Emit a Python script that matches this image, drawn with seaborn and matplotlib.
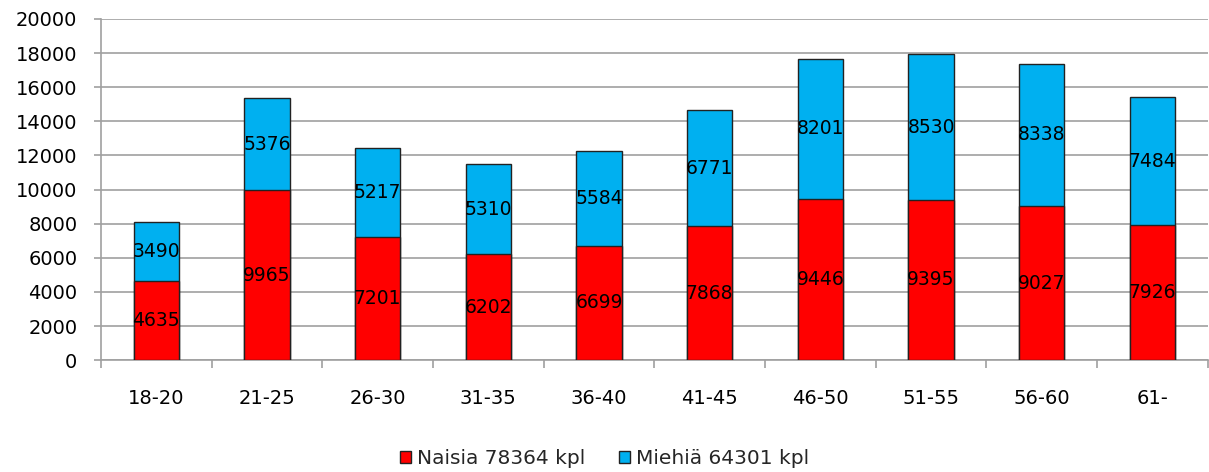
import matplotlib
matplotlib.use("Agg")
import matplotlib.pyplot as plt
import seaborn as sns
import pandas as pd
import numpy as np
from matplotlib.patches import Patch

categories = ["18-20", "21-25", "26-30", "31-35", "36-40", "41-45", "46-50", "51-55", "56-60", "61-"]
naisia = [4635, 9965, 7201, 6202, 6699, 7868, 9446, 9395, 9027, 7926]
miehia = [3490, 5376, 5217, 5310, 5584, 6771, 8201, 8530, 8338, 7484]
legend_labels = ["Naisia 78364 kpl", "Miehiä 64301 kpl"]

RED = "#FF0000"
BLUE = "#00B0F0"
GRID = "#A0A0A0"

sns.set_theme(style="white")
plt.rcParams["font.family"] = ["DejaVu Sans"]

df = pd.DataFrame({"cat": categories, "naisia": naisia, "miehia": miehia})
df["total"] = df["naisia"] + df["miehia"]

fig = plt.figure(figsize=(12.09, 4.72), dpi=100)
ax = fig.add_axes([0.0835, 0.237, 0.9155, 0.723])

sns.barplot(data=df, x="cat", y="total", color=BLUE, width=0.41, ax=ax,
            edgecolor="#222222", linewidth=1, saturation=1, zorder=3)
sns.barplot(data=df, x="cat", y="naisia", color=RED, width=0.41, ax=ax,
            edgecolor="#222222", linewidth=1, saturation=1, zorder=4)

for i, (n, m) in enumerate(zip(naisia, miehia)):
    ax.text(i, n / 2, str(n), ha="center", va="center", fontsize=13.5, color="black", zorder=5)
    ax.text(i, n + m / 2, str(m), ha="center", va="center", fontsize=13.5, color="black", zorder=5)

ax.set_xlim(-0.5, len(categories) - 0.5)
ax.set_ylim(0, 20000)
ax.set_yticks(np.arange(0, 20001, 2000))
ax.yaxis.grid(True, color=GRID, linewidth=1.2, zorder=0)
ax.set_axisbelow(True)
ax.set_xlabel("")
ax.set_ylabel("")

for s in ["top", "right"]:
    ax.spines[s].set_visible(False)
for s in ["left", "bottom"]:
    ax.spines[s].set_color(GRID)
    ax.spines[s].set_linewidth(1.2)

ax.tick_params(axis="y", which="major", direction="out", length=5, color=GRID,
               width=1.2, pad=12, labelsize=14, labelcolor="black", left=True)
ax.set_xticks(range(len(categories)))
ax.set_xticklabels(categories)
ax.tick_params(axis="x", which="major", length=0, pad=21, labelsize=14, labelcolor="black")
ax.set_xticks(np.arange(-0.5, len(categories), 1.0), minor=True)
ax.tick_params(axis="x", which="minor", direction="out", length=6, color=GRID, width=1.2, bottom=True)

handles = [Patch(facecolor=RED, edgecolor="#222222", linewidth=1),
           Patch(facecolor=BLUE, edgecolor="#222222", linewidth=1)]
fig.legend(handles, legend_labels, loc="center", bbox_to_anchor=(0.5, 0.029), ncol=2,
           frameon=False, fontsize=14.5, handlelength=0.55, handleheight=0.55,
           handletextpad=0.3, columnspacing=1.7)

fig.savefig("out.png", dpi=100)
